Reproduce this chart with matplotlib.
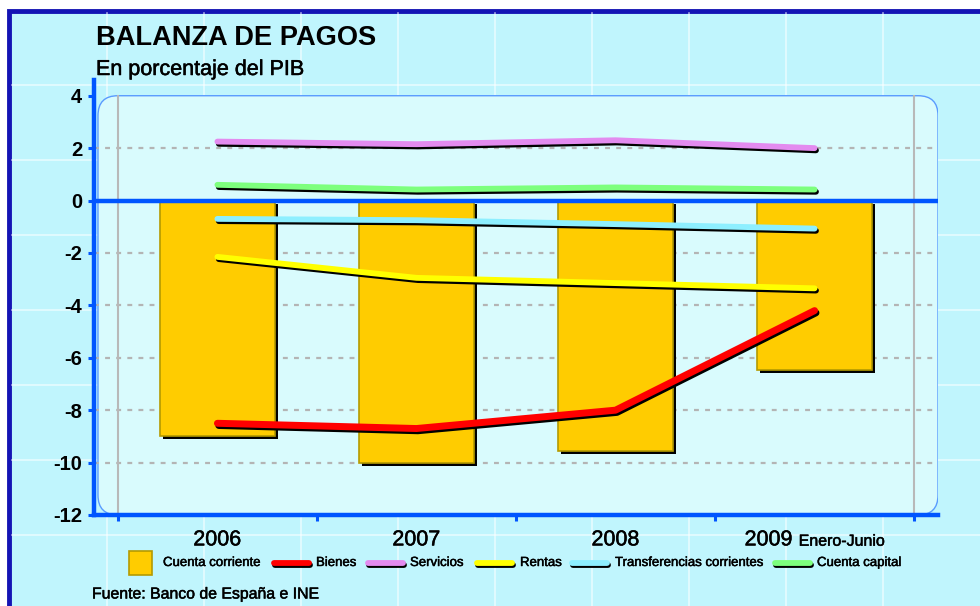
import matplotlib
matplotlib.use('Agg')
import matplotlib.pyplot as plt
import matplotlib.patheffects as pe
from matplotlib.patches import FancyBboxPatch, Rectangle
from matplotlib.lines import Line2D

plt.rcParams['font.family'] = ['Liberation Sans', 'DejaVu Sans']

# datos (% del PIB)
years = ['2006', '2007', '2008', '2009']
cuenta_corriente = [-9.0, -10.0, -9.55, -6.45]
bienes = [-8.5, -8.7, -8.0, -4.2]
servicios = [2.25, 2.15, 2.3, 2.0]
rentas = [-2.15, -2.95, -3.15, -3.35]
transferencias = [-0.7, -0.75, -0.9, -1.07]
cuenta_capital = [0.6, 0.42, 0.5, 0.42]
yticks = [-12, -10, -8, -6, -4, -2, 0, 2, 4]

W, H = 980, 606
fig = plt.figure(figsize=(W / 100, H / 100), dpi=100)
fig.patch.set_facecolor('white')

heavy = [pe.withStroke(linewidth=0.35, foreground='black')]


def fx(px):
    return px / W


def fy(py):
    return 1 - py / H


# fondo con marco azul
fig.add_artist(Rectangle((fx(9), -0.05), 1.1, fy(11) + 0.05, transform=fig.transFigure,
                         facecolor='#c0f5fd', edgecolor='#1414b4', lw=3.5, zorder=-3))
for gx in range(10, W, 97):
    if gx > 12:
        fig.add_artist(Line2D([fx(gx), fx(gx)], [0, fy(13)], transform=fig.transFigure,
                              color='white', lw=1.2, alpha=0.6, zorder=-2))
for gy in range(85, H, 75):
    fig.add_artist(Line2D([fx(12), 1], [fy(gy), fy(gy)], transform=fig.transFigure,
                          color='white', lw=1.2, alpha=0.6, zorder=-2))

ax = fig.add_axes([fx(94), fy(515), fx(938) - fx(94), fy(80) - fy(515)])
ax.patch.set_visible(False)
ax.set_xlim(-0.62, 3.62)
ax.set_ylim(-12, 4.6)

# area del grafico redondeada
xpx = (938 - 94) / 4.24
ypx = (515 - 80) / 16.6
ax.add_patch(FancyBboxPatch((-0.6, -12), 4.22, 16, boxstyle='round,pad=0,rounding_size=0.1',
                            mutation_aspect=xpx / ypx, facecolor='#d9fbfd',
                            edgecolor='#5a9bff', lw=1, zorder=0))

for yv in [2, -2, -4, -6, -8, -10]:
    ax.plot([-0.62, 3.62], [yv, yv], color='#b4b4b4', lw=1.6, ls=(0, (2.2, 2.8)), zorder=1)
for xv in [-0.5, 3.5]:
    ax.plot([xv, xv], [-12, 4], color='#b8b8b8', lw=1.5, zorder=1)

x = list(range(len(years)))
ax.bar(x, cuenta_corriente, width=0.58, color='#ffcc00', edgecolor='#b49a00', lw=1.2, zorder=2,
       path_effects=[pe.SimplePatchShadow(offset=(2.2, -2.2), shadow_rgbFace='black', alpha=1),
                     pe.Normal()])

ax.axhline(0, color='#0055ff', lw=3.2, zorder=3)

series = [(servicios, '#e38bef'), (cuenta_capital, '#7dff7d'), (transferencias, '#8eefff'),
          (rentas, '#ffff00'), (bienes, '#ff0000')]
shadow = [pe.SimpleLineShadow(offset=(1.0, -1.6), shadow_color='black', alpha=1, rho=1),
          pe.Normal()]
for vals, col in series:
    ax.plot(x, vals, color=col, lw=4.2 if col != '#ff0000' else 5, solid_capstyle='round',
            solid_joinstyle='round', zorder=4, path_effects=shadow)

# ejes
for s in ['top', 'right']:
    ax.spines[s].set_visible(False)
for s in ['left', 'bottom']:
    ax.spines[s].set_color('#0055ff')
    ax.spines[s].set_linewidth(3.2)
ax.set_yticks(yticks)
ax.set_yticklabels([str(v) for v in yticks], fontsize=14.5, fontweight='bold')
ax.set_xticks([-0.5, 0.5, 1.5, 2.5, 3.5])
ax.set_xticklabels([])
ax.tick_params(axis='both', colors='#0055ff', length=4.5, width=2.2)
ax.tick_params(axis='y', labelcolor='black', pad=4)

for i, yr in enumerate(years[:3]):
    ax.text(i, -12.95, yr, ha='center', va='center', fontsize=15.5, path_effects=heavy)
ax.text(2.89, -12.95, years[3], ha='right', va='center', fontsize=15.5, path_effects=heavy)
ax.text(2.92, -13.0, 'Enero-Junio', ha='left', va='center', fontsize=11.5, path_effects=heavy)

# titulo
fig.text(fx(96), fy(45), 'BALANZA DE PAGOS', fontsize=19.6, fontweight='bold', va='baseline')
fig.text(fx(96), fy(75), 'En porcentaje del PIB', fontsize=15.5, va='baseline', path_effects=heavy)

# leyenda
ly = fy(563)
fig.add_artist(Rectangle((fx(129), fy(575)), fx(23), fy(551) - fy(575), transform=fig.transFigure,
                         facecolor='#ffcc00', edgecolor='#b49a00', lw=1.2))
fig.text(fx(163), ly, 'Cuenta corriente', fontsize=9.5, va='center', path_effects=heavy)
leg = [('Bienes', '#ff0000', 274, 316), ('Servicios', '#e38bef', 368, 410),
       ('Rentas', '#ffff00', 477, 520), ('Transferencias corrientes', '#8eefff', 572, 615),
       ('Cuenta capital', '#7dff7d', 775, 817)]
for lab, col, x0, xt in leg:
    fig.add_artist(Line2D([fx(x0), fx(x0 + 35)], [ly, ly], transform=fig.transFigure, color=col,
                          lw=4.2, solid_capstyle='round', path_effects=shadow))
    fig.text(fx(xt), ly, lab, fontsize=9.5, va='center', path_effects=heavy)

fig.text(fx(92), fy(594), 'Fuente: Banco de España e INE', fontsize=11.4, va='center',
         path_effects=heavy)

plt.savefig('out.png', dpi=100)
